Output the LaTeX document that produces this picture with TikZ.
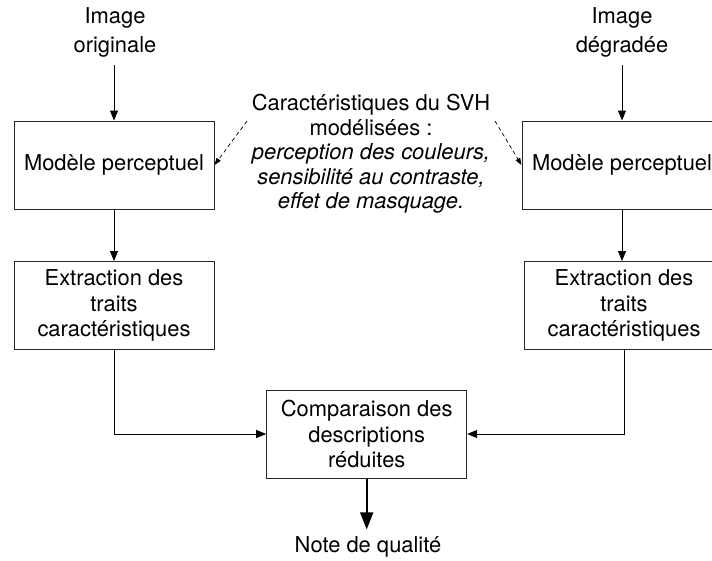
\documentclass[tikz,border=0pt]{standalone}
\usepackage{fontspec}
\setmainfont{TeX Gyre Heros}
\usetikzlibrary{arrows.meta}
\begin{document}
\begin{tikzpicture}[x=1pt,y=-1pt,
  box/.style={draw=black!85, line width=1pt, minimum width=200pt, minimum height=88pt, align=center, inner sep=0pt},
  lbl/.style={align=center, inner sep=0pt},
  arr/.style={line width=1pt, -{Triangle[length=10pt,width=8pt]}},
  dasharr/.style={line width=0.7pt, dash pattern=on 4pt off 3pt, -{Triangle[length=7pt,width=5pt]}},
  bigarr/.style={line width=1.8pt, -{Triangle[length=17pt,width=13pt]}},
  font=\fontsize{21.9}{25.5}\selectfont]
\useasboundingbox (0,0) rectangle (712,560);

\node[lbl, font=\fontsize{21.9}{29}\selectfont] (io) at (115,32) {Image\\originale};
\node[lbl, font=\fontsize{21.9}{29}\selectfont] (id) at (622,32) {Image\\dégradée};
\node[box] (mL) at (114,165) {Modèle perceptuel};
\node[box] (mR) at (622,165) {Modèle perceptuel};
\node[box] (eL) at (114,305.5) {Extraction des\\traits\\caractéristiques};
\node[box] (eR) at (624,305.5) {Extraction des\\traits\\caractéristiques};
\node[box] (cmp) at (366.7,434) {Comparaison des\\descriptions\\réduites};
\node[lbl, font=\fontsize{21.9}{24.5}\selectfont] (svh) at (371,154) {Caractéristiques du SVH\\modélisées :\\\textit{perception des couleurs,}\\\textit{sensibilité au contraste,}\\\textit{effet de masquage.}};
\node[lbl] (note) at (368,547) {Note de qualité};

\coordinate (dL) at (247,121);
\coordinate (dR) at (495,121);

\draw[arr, shorten <=8pt] (io.south -| mL.north) -- (mL.north);
\draw[arr, shorten <=8pt] (id.south -| mR.north) -- (mR.north);
\draw[arr] (mL) -- (eL);
\draw[arr] (mR.south) -- (mR.south |- eR.north);
\draw[arr] (eL.south) |- (cmp.west);
\draw[arr] (eR.south) |- (cmp.east);
\draw[bigarr, shorten >=7pt] (cmp.south) -- (cmp.south |- note.north);
\draw[dasharr] (dL) -- (mL.east);
\draw[dasharr] (dR) -- (mR.west);
\end{tikzpicture}
\end{document}
